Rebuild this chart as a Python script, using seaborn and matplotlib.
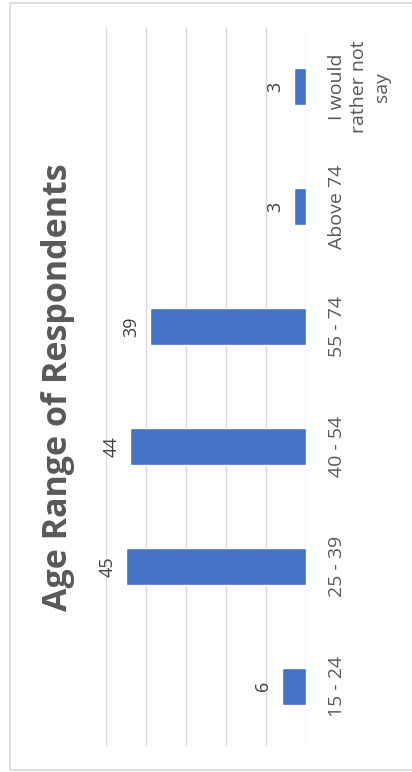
import matplotlib
matplotlib.use("Agg")
import matplotlib.pyplot as plt
import seaborn as sns
import pandas as pd
from matplotlib.patches import Rectangle

categories = ["15 - 24", "25 - 39", "40 - 54", "55 - 74", "Above 74", "I would\nrather not\nsay"]
values = [6, 45, 44, 39, 3, 3]
grid_ticks = [0, 10, 20, 30, 40, 50]
title = "Age Range of Respondents"

sns.set_theme(style="white")
plt.rcParams["font.family"] = ["Open Sans", "DejaVu Sans"]

W, H = 412, 772
fig = plt.figure(figsize=(W / 100, H / 100), dpi=100)
fig.patch.set_facecolor("white")

# outer chart border (right edge cropped off)
fig.patches.append(Rectangle((10 / W, 2 / H), 1.2, (769 - 2) / H, transform=fig.transFigure,
                             fill=False, edgecolor="#d9d9d9", linewidth=1.2, zorder=0))

ax = fig.add_axes([106 / W, 1 - 746 / H, 200 / W, 719 / H])

df = pd.DataFrame({"category": categories, "value": values})
sns.barplot(data=df, x="value", y="category", order=categories[::-1], orient="h",
            color="#4472C4", saturation=1, width=0.31, ax=ax, zorder=3)

ax.set_xlim(50, 0)
ax.set_ylim(len(categories) - 0.5, -0.5)
ax.set_xticks(grid_ticks)
ax.set_xticklabels([])
ax.xaxis.grid(True, color="#d9d9d9", linewidth=1.0, zorder=0)
ax.yaxis.grid(False)
for s in ax.spines.values():
    s.set_visible(False)
ax.set_xlabel("")
ax.set_ylabel("")
ax.tick_params(axis="x", length=0)

ax.yaxis.tick_right()
ax.tick_params(axis="y", length=0, pad=16, labelsize=14, labelcolor="#595959")
for lab in ax.get_yticklabels():
    lab.set_rotation(90)
    lab.set_va("center")
    lab.set_ha("left")
    lab.set_multialignment("center")
    lab.set_linespacing(1.3)

# data labels
for i, cat in enumerate(categories[::-1]):
    v = values[categories.index(cat)]
    ax.annotate(str(v), xy=(v, i), xytext=(-7, 0), textcoords="offset points",
                rotation=90, ha="right", va="center", fontsize=13, color="#404040")

fig.text(67 / W, 1 - 387 / H, title, rotation=90, rotation_mode="anchor",
         ha="center", va="baseline", fontsize=24.5, fontweight="bold", color="#595959")

fig.savefig("out.png", dpi=100, facecolor="white")
